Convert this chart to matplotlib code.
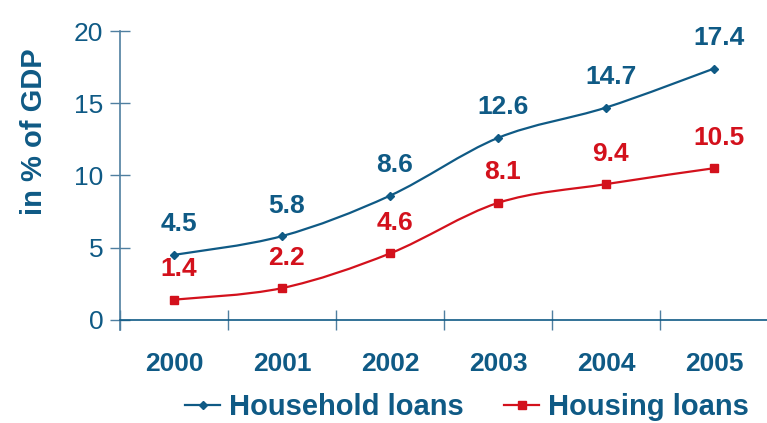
import numpy as np
import matplotlib
matplotlib.use('Agg')
import matplotlib.pyplot as plt
from matplotlib.path import Path
from matplotlib.patches import PathPatch

years = ['2000', '2001', '2002', '2003', '2004', '2005']
household = [4.5, 5.8, 8.6, 12.6, 14.7, 17.4]
housing = [1.4, 2.2, 4.6, 8.1, 9.4, 10.5]

BLUE = '#0f5a85'
RED = '#d3111c'
AXIS = '#4f7fa0'

plt.rcParams['font.family'] = ['Liberation Sans', 'DejaVu Sans']


def smooth_path(xs, ys):
    '''excel style smoothed line: cubic bezier through the points'''
    pts = np.column_stack([xs, ys]).astype(float)
    n = len(pts)
    verts = [pts[0]]
    codes = [Path.MOVETO]
    for i in range(n - 1):
        p0 = pts[max(i - 1, 0)]
        p1 = pts[i]
        p2 = pts[i + 1]
        p3 = pts[min(i + 2, n - 1)]
        c1 = p1 + (p2 - p0) / 6.0
        c2 = p2 - (p3 - p1) / 6.0
        verts += [c1, c2, p2]
        codes += [Path.CURVE4] * 3
    return Path(verts, codes)


fig = plt.figure(figsize=(7.67, 4.23), dpi=100)
ax = fig.add_axes([120/767, 1-330/423, 648/767, 299/423])

x = np.arange(len(years))
for vals, col, mk, ms in [(household, BLUE, 'D', 4.5), (housing, RED, 's', 6)]:
    ax.add_patch(PathPatch(smooth_path(x, vals), fill=False, edgecolor=col, lw=1.6))
    ax.plot(x, vals, ls='none', marker=mk, color=col, ms=ms)
    for xi, v in zip(x, vals):
        ax.annotate(f'{v:.1f}', (xi, v), xytext=(3.5, 22), textcoords='offset points',
                    ha='center', va='center', fontsize=19, fontweight='bold', color=col)

# legend handles
ax.plot([], [], color=BLUE, lw=1.6, marker='D', ms=4.5, label='Household loans')
ax.plot([], [], color=RED, lw=1.6, marker='s', ms=6, label='Housing loans')

ax.set_xlim(-0.5, 5.5)
ax.set_ylim(-0.7, 20)
ax.set_yticks([0, 5, 10, 15, 20])
ax.set_xticks(np.arange(-0.5, 5.0, 1.0))
ax.set_xticklabels([])
ax.set_xticks(x, minor=True)
ax.set_xticklabels(years, minor=True)

for s in ['top', 'right']:
    ax.spines[s].set_visible(False)
ax.spines['bottom'].set_position(('data', 0))
ax.spines['bottom'].set_color(BLUE)
ax.spines['bottom'].set_linewidth(1.2)
ax.spines['left'].set_color(AXIS)
ax.spines['left'].set_linewidth(1.2)

ax.tick_params(axis='y', direction='inout', length=14, width=1, color=AXIS,
               labelsize=19, labelcolor=BLUE, pad=5)
ax.tick_params(axis='x', which='major', direction='inout', length=14, width=1, color=AXIS)
ax.tick_params(axis='x', which='minor', length=0, pad=23, labelsize=19, labelcolor=BLUE)
for lab in ax.get_xticklabels(minor=True):
    lab.set_fontweight('bold')

fig.text(34/767, 1-132/423, 'in % of GDP', rotation=90, ha='center', va='center',
         fontsize=21, fontweight='bold', color=BLUE)

leg = fig.legend(loc='center', bbox_to_anchor=(0.609, 0.037), ncol=2, frameon=False,
                 fontsize=21, handlelength=1.2, handletextpad=0.3, columnspacing=1.4,
                 borderpad=0, borderaxespad=0)
for t in leg.get_texts():
    t.set_color(BLUE)
    t.set_fontweight('bold')

fig.savefig('out.png', dpi=100)
